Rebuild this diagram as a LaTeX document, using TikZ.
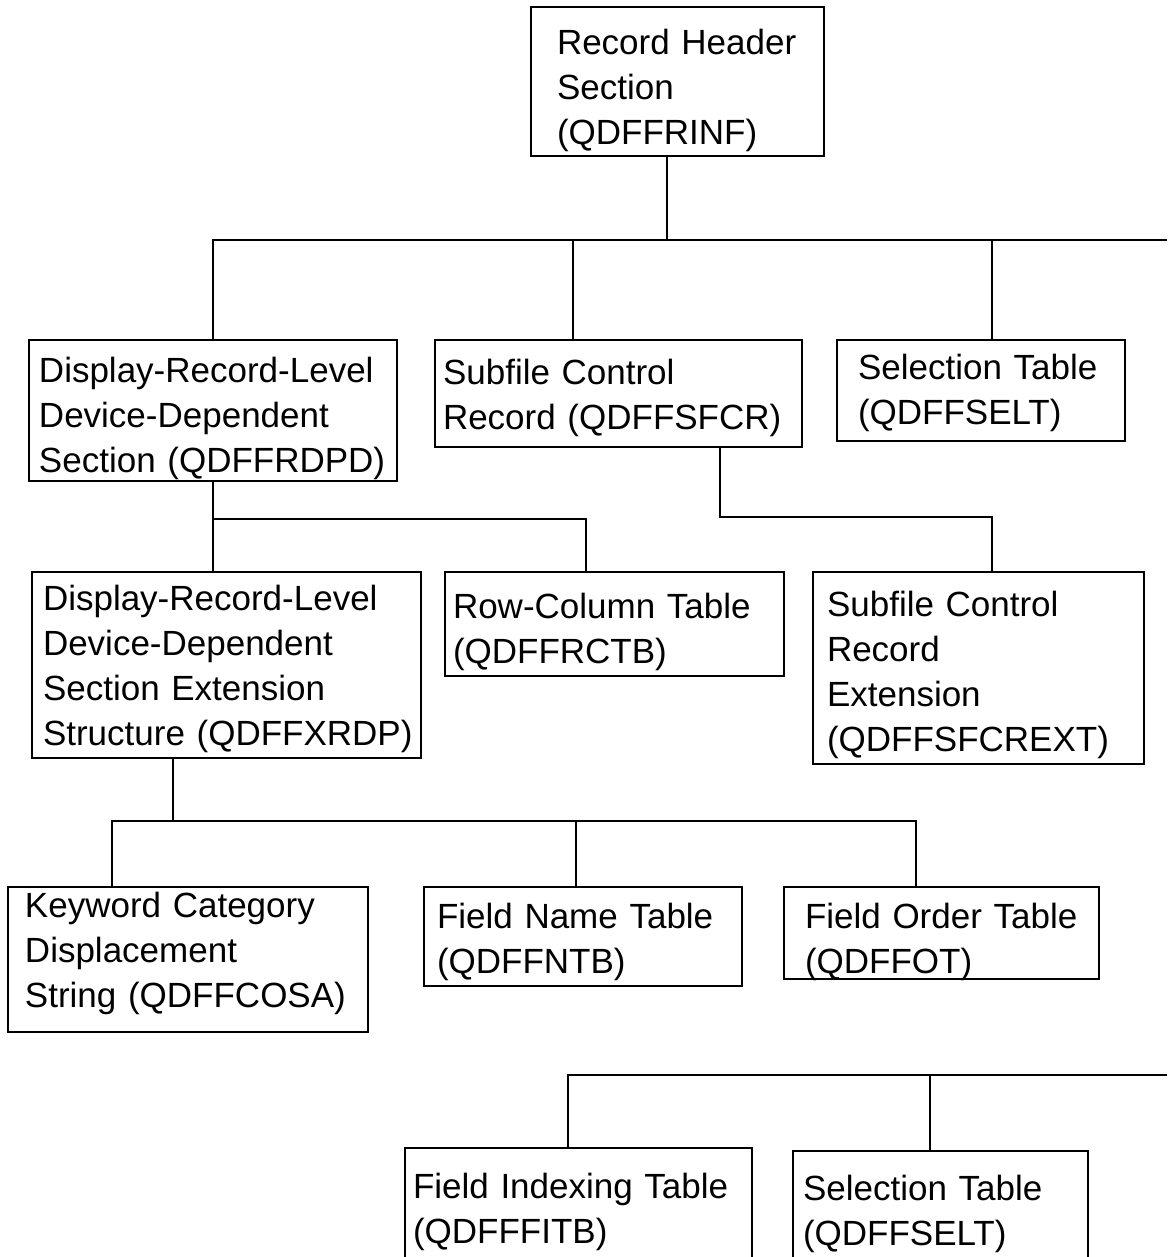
\documentclass[tikz,border=0pt]{standalone}
\usepackage{fontspec}
\setmainfont{Liberation Sans}
\hyphenpenalty=10000
\exhyphenpenalty=10000
\tikzset{>=stealth}
\tikzset{blk/.style n args={5}{draw, anchor=north west, align=left, outer sep=0pt,
    inner ysep=0pt, inner xsep=#2, minimum width=#1, text width=#3,
    text height=#4, text depth=#5, font=\fontsize{17.5}{22.5}\selectfont}}

\begin{document}
\begin{tikzpicture}[x=0.5pt, y=-0.5pt, line width=1.1pt]
    \useasboundingbox (0,0) rectangle (1167,1257);
    \clip (0,0) rectangle (1167,1257);
    % boxes
    \node[blk={146.5pt}{13pt}{120.5pt}{24pt}{50.5pt}] (hdr) at (531,7) {Record Header\\Section\\(QDFFRINF)};
    \node[blk={184pt}{5pt}{174pt}{21pt}{49.5pt}] (rdpd) at (29,340) {Display-Record-Level\\Device-Dependent\\Section~(QDFFRDPD)};
    \node[blk={183.5pt}{4pt}{175.5pt}{22pt}{31.5pt}] (sfcr) at (435,340) {Subfile Control\\Record~(QDFFSFCR)};
    \node[blk={144pt}{10.5pt}{123pt}{19.5pt}{31pt}] (selt) at (837,340) {Selection Table\\(QDFFSELT)};
    \node[blk={194.5pt}{5.5pt}{183.5pt}{19pt}{74pt}] (xrdp) at (32,572) {Display-Record-Level\\Device-Dependent\\Section Extension\\Structure~(QDFFXRDP)};
    \node[blk={169.5pt}{4pt}{161.5pt}{23pt}{29pt}] (rctb) at (445,572) {Row-Column Table\\(QDFFRCTB)};
    \node[blk={165.5pt}{7pt}{151.5pt}{22pt}{74pt}] (sfcrext) at (813,572) {Subfile Control\\Record\\Extension\\(QDFFSFCREXT)};
    \node[blk={180pt}{8.5pt}{163pt}{15pt}{57.5pt}] (cosa) at (8,887) {Keyword Category\\Displacement\\String~(QDFFCOSA)};
    \node[blk={159pt}{6.5pt}{146pt}{20.5pt}{29pt}] (fntb) at (424,887) {Field Name Table\\(QDFFNTB)};
    \node[blk={157.5pt}{10.5pt}{136.5pt}{20.5pt}{25.5pt}] (fot) at (784,887) {Field Order Table\\(QDFFOT)};
    \node[blk={173.5pt}{4pt}{165.5pt}{25pt}{35pt}] (fitb) at (405,1148) {Field Indexing Table\\(QDFFFITB)};
    \node[blk={147.5pt}{5pt}{137.5pt}{24.5pt}{34pt}] (selt2) at (793,1151) {Selection Table\\(QDFFSELT)};
    % connectors
    \coordinate (j1) at (667,240);
    \coordinate (e1) at (1167,240);
    \coordinate (e2) at (1167,1075);
    \draw (hdr.south -| j1) -- (j1);
    \draw (rdpd.north) |- (e1);
    \draw ([xshift=69pt]sfcr.north west) -- ++(0,-100);
    \draw ([xshift=77.5pt]selt.north west) -- ++(0,-100);
    \draw (rdpd.south) -- (rdpd.south |- xrdp.north);
    \draw (rdpd.south) ++(0,38) -| ([xshift=70.5pt]rctb.north west);
    \draw ([xshift=142.5pt]sfcr.south west) -- ++(0,70) -| ([xshift=89.5pt]sfcrext.north west);
    \draw ([xshift=70.5pt]xrdp.south west) -- ++(0,63) coordinate (j3);
    \draw ([xshift=52pt]cosa.north west) |- (j3) -| ([xshift=66pt]fot.north west);
    \draw ([xshift=76pt]fntb.north west) -- ++(0,-66);
    \draw ([xshift=81.5pt]fitb.north west) |- (e2);
    \draw ([xshift=68.5pt]selt2.north west) -- ++(0,-76);
    %\draw[help lines] (0,0) grid (1167,1257);
\end{tikzpicture}
\end{document}
